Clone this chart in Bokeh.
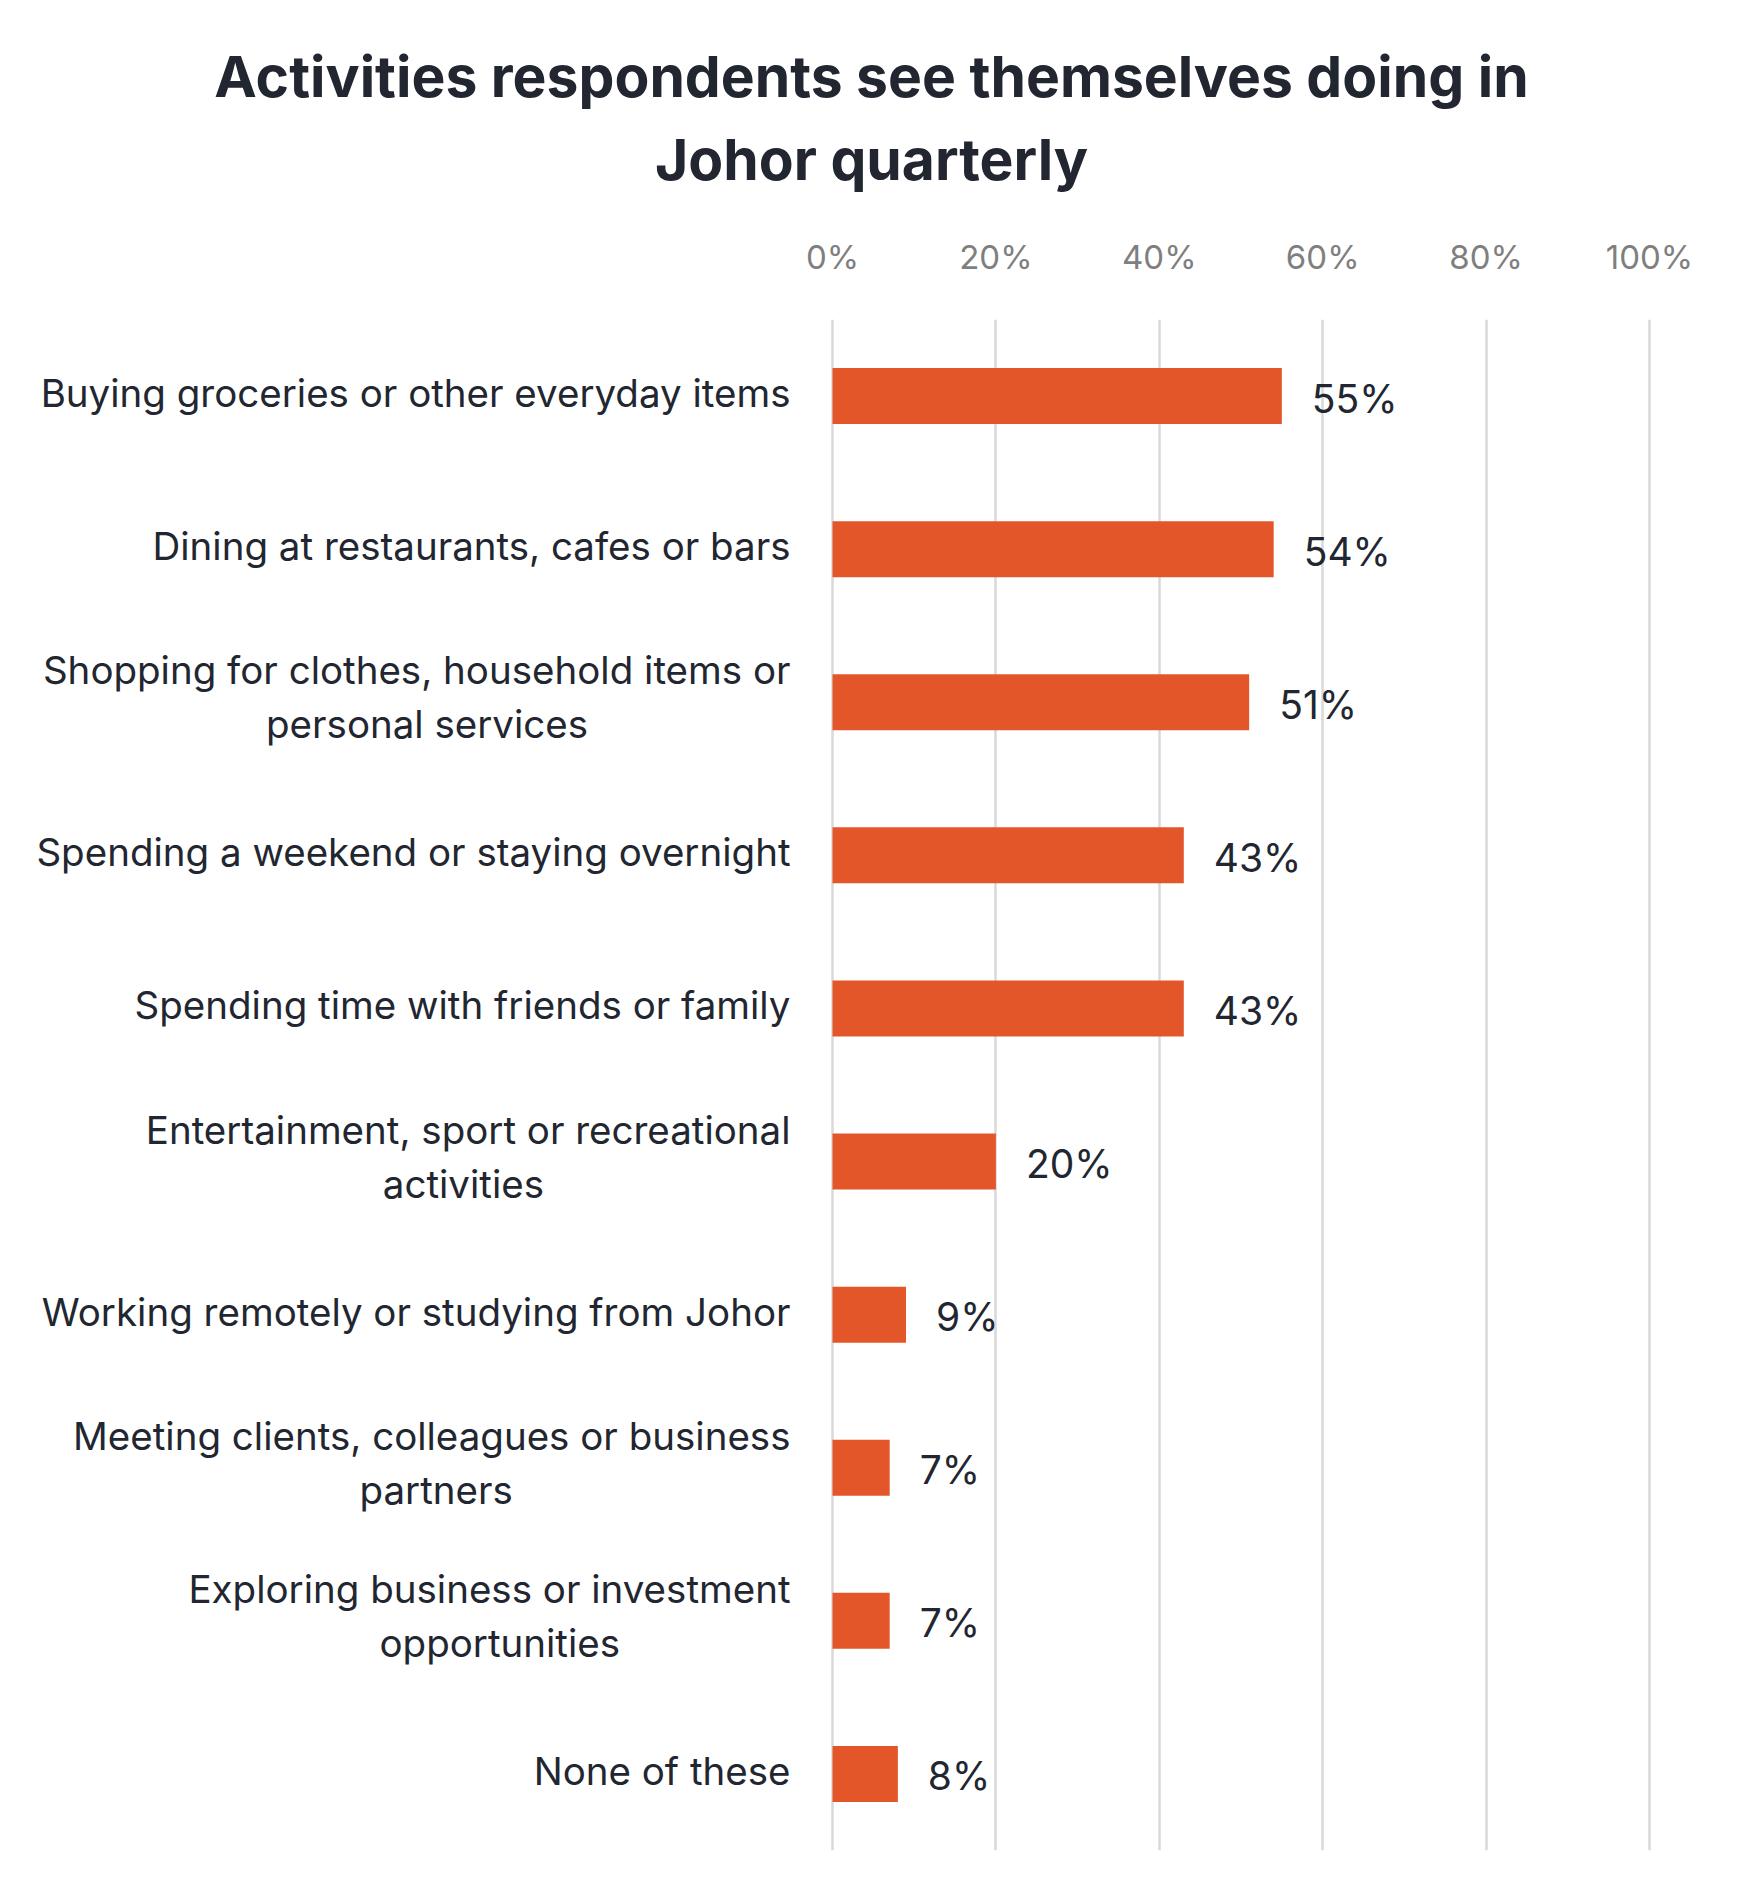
from bokeh.plotting import figure
from bokeh.layouts import column
from bokeh.models import FixedTicker, PrintfTickFormatter, Range1d, FactorRange, ColumnDataSource
from bokeh.core.properties import value
from bokeh.embed import file_html
from bokeh.resources import INLINE

# ---- data ----
categories = [
    "Buying groceries or other everyday items",
    "Dining at restaurants, cafes or bars",
    "Shopping for clothes, household items or personal services",
    "Spending a weekend or staying overnight",
    "Spending time with friends or family",
    "Entertainment, sport or recreational activities",
    "Working remotely or studying from Johor",
    "Meeting clients, colleagues or business partners",
    "Exploring business or investment opportunities",
    "None of these",
]
label_line1 = [
    "Buying groceries or other everyday items",
    "Dining at restaurants, cafes or bars",
    "Shopping for clothes, household items or",
    "Spending a weekend or staying overnight",
    "Spending time with friends or family",
    "Entertainment, sport or recreational",
    "Working remotely or studying from Johor",
    "Meeting clients, colleagues or business",
    "Exploring business or investment",
    "None of these",
]
label_line2 = ["", "", "personal services", "", "", "activities", "", "partners", "opportunities", ""]
values = [55, 54, 51, 43, 43, 20, 9, 7, 7, 8]
tick_values = [0, 20, 40, 60, 80, 100]
title_lines = ["Activities respondents see themselves doing in", "Johor quarterly"]

# ---- layout constants ----
W, H = 1727, 1885
TH = 230             # height of the title strip
ZERO_PX = 832.0      # x of 0% inside figure
PX_PER = 8.17        # pixels per percentage point
LABEL_GAP = 42.0     # gap between category labels and 0%
VALUE_GAP = 30.0     # gap between bar end and value label
FONT = "Inter"
TEXT_DARK = "#222630"
BAR_COLOR = "#e35629"
LAB_FS = 38.5
CHAR_W = 0.472       # average char width in em (for centering second lines)
LINE_SP = 54
LAB_DY = -3
TITLE_X = 871
TITLE_BASELINES = [76, 159]   # px from top

# ---- title strip ----
pt = figure(width=W, height=TH, x_range=Range1d(0, W), y_range=Range1d(TH, 0),
            x_axis_location=None, y_axis_location=None, output_backend="svg",
            toolbar_location=None, min_border=0)
pt.grid.visible = False
pt.outline_line_color = None
pt.text(x=[TITLE_X] * len(title_lines), y=TITLE_BASELINES, text=title_lines,
        text_font=value(FONT), text_font_size="57px", text_font_style="bold",
        text_color=TEXT_DARK, text_align="center", text_baseline="alphabetic")

# ---- main chart ----
x_start = -ZERO_PX / PX_PER
x_end = (W - ZERO_PX) / PX_PER

p = figure(
    width=W, height=H - TH,
    y_range=FactorRange(factors=list(reversed(categories))),
    x_range=Range1d(x_start, x_end),
    x_axis_location="above", y_axis_location=None,
    output_backend="svg", toolbar_location=None,
    min_border_left=0, min_border_right=0, min_border_top=319 - TH, min_border_bottom=35,
)
p.outline_line_color = None
p.background_fill_color = "white"
p.border_fill_color = "white"

ax = p.xaxis[0]
ax.ticker = FixedTicker(ticks=tick_values)
ax.formatter = PrintfTickFormatter(format="%d%%")
ax.axis_line_color = None
ax.major_tick_line_color = None
ax.minor_tick_line_color = None
ax.major_label_text_font = FONT
ax.major_label_text_font_size = "33px"
ax.major_label_text_color = "#7f7f7f"
ax.major_label_standoff = 37

p.xgrid.grid_line_color = "#d9d9d9"
p.xgrid.grid_line_width = 2.5
p.ygrid.grid_line_color = None

src = ColumnDataSource(dict(
    cat=categories, val=values,
    lab=[f"{v}%" for v in values],
    lx=[v + VALUE_GAP / PX_PER for v in values],
))

p.hbar(y="cat", right="val", left=0, height=0.366, source=src,
       fill_color=BAR_COLOR, line_color=None)

p.text(x="lx", y="cat", text="lab", source=src, text_font=value(FONT),
       text_font_size="39px", text_color=TEXT_DARK, text_baseline="middle", text_align="left",
       y_offset=2)

# category labels
label_x = -LABEL_GAP / PX_PER
single = [i for i, s in enumerate(label_line2) if s == ""]
double = [i for i, s in enumerate(label_line2) if s != ""]
p.text(x=[label_x] * len(single), y=[categories[i] for i in single], text=[label_line1[i] for i in single],
       text_font=value(FONT), text_font_size=f"{LAB_FS}px", text_color=TEXT_DARK,
       text_align="right", text_baseline="middle", y_offset=LAB_DY)
p.text(x=[label_x] * len(double), y=[categories[i] for i in double], text=[label_line1[i] for i in double],
       text_font=value(FONT), text_font_size=f"{LAB_FS}px", text_color=TEXT_DARK,
       text_align="right", text_baseline="middle", y_offset=-LINE_SP / 2 + LAB_DY - 2)
centers = [label_x - (len(label_line1[i]) * CHAR_W * LAB_FS / 2) / PX_PER for i in double]
p.text(x=centers, y=[categories[i] for i in double], text=[label_line2[i] for i in double],
       text_font=value(FONT), text_font_size=f"{LAB_FS}px", text_color=TEXT_DARK,
       text_align="center", text_baseline="middle", y_offset=LINE_SP / 2 + LAB_DY - 2)

layout = column(pt, p, spacing=0)
open("out.html", "w").write(file_html(layout, INLINE))
